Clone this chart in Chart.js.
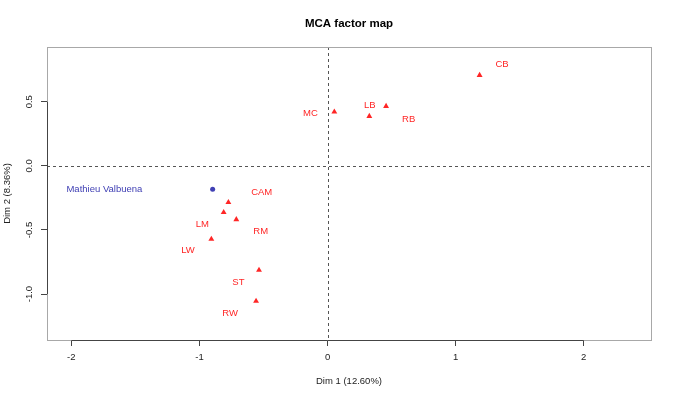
<!DOCTYPE html>
<html>
<head>
<meta charset="utf-8">
<script src="https://cdn.jsdelivr.net/npm/chart.js@4.4.0/dist/chart.umd.min.js"></script>
<style>
  html,body{margin:0;padding:0;background:#fff}
  #wrap{width:675px;height:399px}
</style>
</head>
<body>
<div id="wrap"><canvas id="mca" width="675" height="399"></canvas></div>
<script>
// category points (Dim 1, Dim 2)
const catNames = ['CB','LB','RB','MC','CAM','LM','RM','LW','ST','RW'];
const catX = [1.187, 0.326, 0.457, 0.053, -0.774, -0.811, -0.712, -0.907, -0.535, -0.558];
const catY = [0.707, 0.387, 0.465, 0.421, -0.285, -0.363, -0.418, -0.571, -0.813, -1.055];
// where the labels sit (data units, as placed by the original plot)
const catLabX = [1.362, 0.329, 0.633, -0.134, -0.514, -0.977, -0.522, -1.089, -0.696, -0.761];
const catLabY = [0.790, 0.473, 0.366, 0.413, -0.207, -0.457, -0.511, -0.662, -0.909, -1.150];

const indNames = ['Mathieu Valbuena'];
const indX = [-0.897];
const indY = [-0.182];
const indLabX = [-1.742];
const indLabY = [-0.184];

const xTicks = [-2, -1, 0, 1, 2];
const yTicks = [0.5, 0.0, -0.5, -1.0];

const RED = '#ff2626', BLUE = '#4040b4';
const FONT = '"Liberation Sans", Arial, sans-serif';

function qs(sel){return document.querySelector(sel)}

const decor = {
  id: 'decor',
  beforeDatasetsDraw(chart) {
    const {ctx, chartArea: a, scales: {x, y}} = chart;
    ctx.save();
    // zero lines
    ctx.strokeStyle = '#555'; ctx.lineWidth = 1; ctx.setLineDash([3, 3]);
    const x0 = Math.round(x.getPixelForValue(0)) + 0.5, y0 = Math.round(y.getPixelForValue(0)) + 0.5;
    ctx.beginPath(); ctx.moveTo(x0, a.top); ctx.lineTo(x0, a.bottom); ctx.stroke();
    ctx.beginPath(); ctx.moveTo(a.left, y0); ctx.lineTo(a.right, y0); ctx.stroke();
    ctx.setLineDash([]);
    // box
    ctx.strokeStyle = '#a8a8a8';
    ctx.strokeRect(Math.round(a.left) + 0.5, Math.round(a.top) + 0.5, Math.round(a.right - a.left), Math.round(a.bottom - a.top));
    // axis segments between first and last tick
    ctx.strokeStyle = '#444';
    const by = Math.round(a.bottom) + 0.5, lx = Math.round(a.left) + 0.5;
    ctx.beginPath(); ctx.moveTo(x.getPixelForValue(xTicks[0]), by); ctx.lineTo(x.getPixelForValue(xTicks[xTicks.length-1]), by); ctx.stroke();
    ctx.beginPath(); ctx.moveTo(lx, y.getPixelForValue(yTicks[0])); ctx.lineTo(lx, y.getPixelForValue(yTicks[yTicks.length-1])); ctx.stroke();
    // main title
    ctx.fillStyle = '#000'; ctx.font = 'bold 11.5px ' + FONT;
    ctx.textAlign = 'center'; ctx.textBaseline = 'middle';
    ctx.fillText('MCA factor map', (a.left + a.right) / 2, 24);
    ctx.restore();
  },
  afterDatasetsDraw(chart) {
    const {ctx, scales: {x, y}} = chart;
    ctx.save();
    ctx.font = '9.5px ' + FONT; ctx.textAlign = 'center'; ctx.textBaseline = 'middle';
    ctx.fillStyle = RED;
    catNames.forEach((n, i) => ctx.fillText(n, x.getPixelForValue(catLabX[i]), y.getPixelForValue(catLabY[i])));
    ctx.fillStyle = BLUE;
    indNames.forEach((n, i) => ctx.fillText(n, x.getPixelForValue(indLabX[i]), y.getPixelForValue(indLabY[i])));
    ctx.restore();
  }
};

new Chart(qs('#mca').getContext('2d'), {
  type: 'scatter',
  data: {
    datasets: [
      { label: 'categories', data: catX.map((v, i) => ({x: v, y: catY[i]})),
        pointStyle: 'triangle', radius: 3.4, backgroundColor: RED, borderColor: RED, borderWidth: 0 },
      { label: 'individuals', data: indX.map((v, i) => ({x: v, y: indY[i]})),
        pointStyle: 'circle', radius: 2.5, backgroundColor: BLUE, borderColor: BLUE, borderWidth: 0 }
    ]
  },
  options: {
    responsive: false, animation: false, events: [],
    layout: { padding: { top: 47, right: 24, bottom: 0, left: 0 } },
    plugins: { legend: { display: false }, tooltip: { enabled: false } },
    scales: {
      x: {
        type: 'linear', min: -2.19, max: 2.525,
        afterBuildTicks: s => { s.ticks = xTicks.map(v => ({value: v})); },
        afterFit: s => { s.height = 59; },
        grid: { drawOnChartArea: false, drawTicks: true, tickLength: 6, color: '#444' },
        border: { display: false },
        ticks: { color: '#222', font: { family: FONT, size: 9.5 }, padding: 6, maxRotation: 0,
                 callback: v => String(v) },
        title: { display: true, text: 'Dim 1 (12.60%)', color: '#222', font: { family: FONT, size: 9.5 },
                 padding: { top: 0, bottom: 12 } }
      },
      y: {
        type: 'linear', min: -1.358, max: 0.927,
        afterBuildTicks: s => { s.ticks = yTicks.map(v => ({value: v})); },
        afterFit: s => { s.width = 47; },
        grid: { drawOnChartArea: false, drawTicks: true, tickLength: 6, color: '#444' },
        border: { display: false },
        ticks: { color: '#222', font: { family: FONT, size: 9.5 }, padding: 3, minRotation: 90, maxRotation: 90,
                 crossAlign: 'center', callback: v => Number(v).toFixed(1) },
        title: { display: true, text: 'Dim 2 (8.36%)', color: '#222', font: { family: FONT, size: 9.5 },
                 padding: { top: 2, bottom: 0 } }
      }
    }
  },
  plugins: [decor]
});
</script>
</body>
</html>
